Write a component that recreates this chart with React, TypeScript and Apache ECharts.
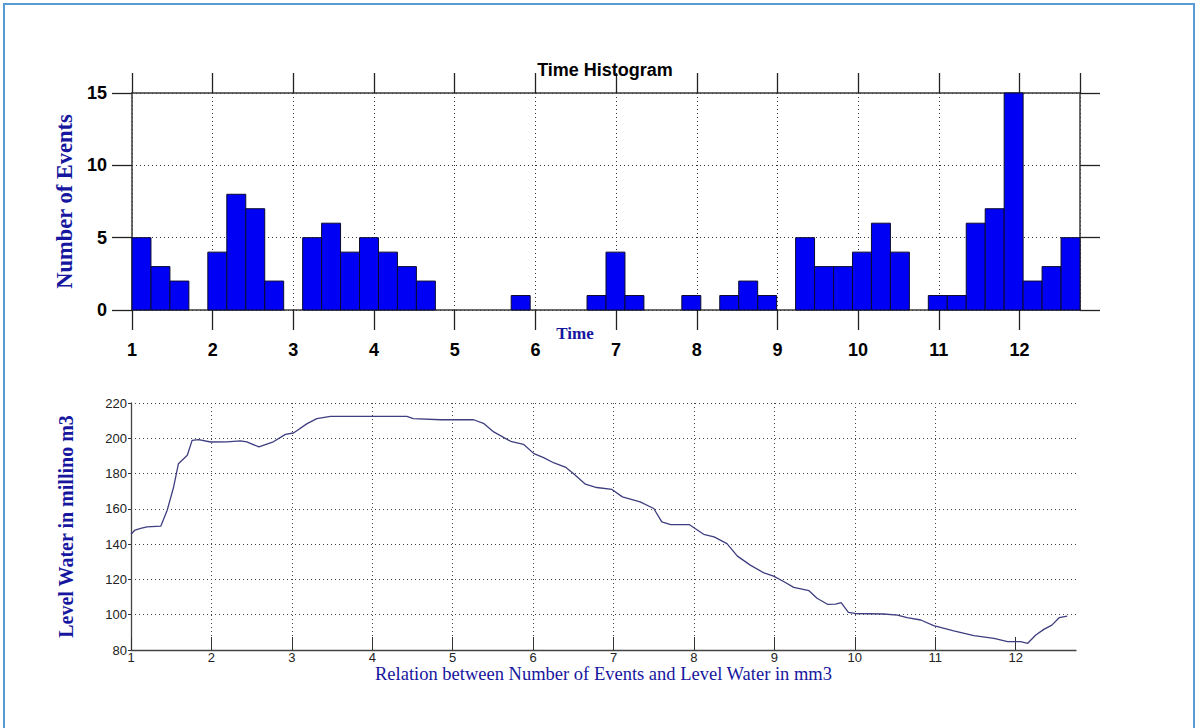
import React, { useEffect, useRef } from "react";
import * as echarts from "echarts";

// Histogram: 50 equal-width bins from 1 to 12.75 (time), counts per bin
const binStart = 1;
const binWidth = 0.235;
const eventCounts = [
  5, 3, 2, 0, 4, 8, 7, 2, 0, 5,
  6, 4, 5, 4, 3, 2, 0, 0, 0, 0,
  1, 0, 0, 0, 1, 4, 1, 0, 0, 1,
  0, 1, 2, 1, 0, 5, 3, 3, 4, 6,
  4, 0, 1, 1, 6, 7, 15, 2, 3, 5,
];

// Water level curve: [time, level in millino m3]
const waterLevel: [number, number][] = [
  [1, 145.6], [1.05, 148], [1.12, 148.9], [1.2, 149.8], [1.37, 150.2],
  [1.45, 159.2], [1.53, 172.4], [1.59, 185.6], [1.7, 190.4], [1.76, 198.8],
  [1.84, 199.2], [1.99, 197.9], [2.19, 198], [2.36, 198.5], [2.44, 198],
  [2.59, 195.1], [2.77, 198], [2.92, 202.2], [3.02, 203], [3.19, 208.3],
  [3.31, 211.1], [3.48, 212.4], [4.06, 212.4], [4.43, 212.4], [4.51, 211.1],
  [4.85, 210.5], [5.26, 210.5], [5.39, 208.3], [5.51, 203.6], [5.72, 198.3],
  [5.88, 196.6], [6.01, 191.3], [6.13, 189], [6.26, 186], [6.4, 183.7],
  [6.5, 180], [6.65, 174], [6.79, 172.1], [6.98, 171], [7.11, 166.8],
  [7.33, 164], [7.5, 160.2], [7.6, 152.6], [7.71, 151.1], [7.94, 151.1],
  [8.12, 145.6], [8.25, 144.1], [8.41, 140.3], [8.54, 133.2], [8.7, 128.1],
  [8.87, 123.7], [8.99, 121.9], [9.12, 118.7], [9.24, 115.5], [9.43, 113.6],
  [9.53, 109.3], [9.66, 105.9], [9.76, 106], [9.83, 106.8], [9.92, 101.3],
  [10.0, 100.7], [10.36, 100.4], [10.53, 99.8], [10.65, 98.3], [10.82, 97],
  [10.98, 93.8], [11.23, 90.9], [11.48, 88.1], [11.73, 86.6], [11.9, 84.7],
  [12.06, 84.7], [12.15, 83.8], [12.25, 88.5], [12.35, 91.7], [12.45, 94.1],
  [12.54, 98.3], [12.64, 99.2],
];

const timeTicks = [1, 2, 3, 4, 5, 6, 7, 8, 9, 10, 11, 12];

const TITLE = "Time Histogram";
const HIST_X_NAME = "Time";
const HIST_Y_NAME = "Number of Events";
const LEVEL_X_NAME = "Relation between Number of Events and Level Water in mm3";
const LEVEL_Y_NAME = "Level Water in millino m3";

const LABEL_BLUE = "#16169e";
const SANS = "'Liberation Sans', Arial, sans-serif";
const SERIF = "'Liberation Serif', 'Times New Roman', serif";

export default function App() {
  const ref = useRef<HTMLDivElement>(null);

  useEffect(() => {
    if (!ref.current) return;
    const chart = echarts.init(ref.current, undefined, { renderer: "svg" });

    const bins = eventCounts.map((c, i) => [
      binStart + i * binWidth,
      binStart + (i + 1) * binWidth,
      c,
    ]);

    const histTickLabel = {
      color: "#000",
      fontFamily: SANS,
      fontWeight: "bold" as const,
      fontSize: 18,
    };
    const dotted = { color: "#333", type: [1, 3] as number[], width: 1 };
    const boxLine = { show: true, onZero: false, lineStyle: { color: "#3a3a3a", width: 1.5 } };
    const outTick = { show: true, length: 20, lineStyle: { color: "#222", width: 1.3 } };

    chart.setOption({
      animation: false,
      backgroundColor: "#fff",
      grid: [
        { left: 132, top: 93, width: 948, height: 217 },
        { left: 131, top: 403, width: 945, height: 247 },
      ],
      xAxis: [
        {
          gridIndex: 0,
          type: "value",
          position: "bottom",
          min: 1,
          max: 12.75,
          interval: 1,
          axisLine: boxLine,
          axisTick: outTick,
          axisLabel: { ...histTickLabel, margin: 31, showMaxLabel: false },
          splitLine: { show: true, lineStyle: dotted },
        },
        {
          gridIndex: 0,
          type: "value",
          position: "top",
          min: 1,
          max: 12.75,
          interval: 1,
          axisLine: boxLine,
          axisTick: outTick,
          axisLabel: { show: false },
          splitLine: { show: false },
        },
        {
          gridIndex: 1,
          type: "value",
          min: 1,
          max: 12.75,
          interval: 1,
          axisLine: { show: true, onZero: false, lineStyle: { color: "#444", width: 1.3 } },
          axisTick: {
            show: true,
            inside: true,
            length: 13,
            customValues: timeTicks,
            lineStyle: { color: "#333", width: 1 },
          },
          axisLabel: {
            color: "#222",
            fontFamily: SANS,
            fontSize: 13,
            margin: 1,
            customValues: timeTicks,
          },
          splitLine: {
            show: true,
            showMaxLine: false,
            lineStyle: { color: "#444", type: [1, 3], width: 1 },
          },
          name: LEVEL_X_NAME,
          nameLocation: "middle",
          nameGap: 13,
          nameTextStyle: {
            color: LABEL_BLUE,
            fontFamily: SERIF,
            fontSize: 18.5,
          },
        },
      ],
      yAxis: [
        {
          gridIndex: 0,
          type: "value",
          position: "left",
          min: 0,
          max: 15,
          interval: 5,
          axisLine: boxLine,
          axisTick: outTick,
          axisLabel: { ...histTickLabel, margin: 25 },
          splitLine: { show: true, lineStyle: dotted },
          name: HIST_Y_NAME,
          nameLocation: "middle",
          nameGap: 54,
          nameTextStyle: {
            color: LABEL_BLUE,
            fontFamily: SERIF,
            fontWeight: "bold",
            fontSize: 22.5,
          },
        },
        {
          gridIndex: 0,
          type: "value",
          position: "right",
          min: 0,
          max: 15,
          interval: 5,
          axisLine: boxLine,
          axisTick: outTick,
          axisLabel: { show: false },
          splitLine: { show: false },
        },
        {
          gridIndex: 1,
          type: "value",
          min: 80,
          max: 220,
          interval: 20,
          axisLine: { show: true, onZero: false, lineStyle: { color: "#444", width: 1.3 } },
          axisTick: { show: true, length: 3, lineStyle: { color: "#333" } },
          axisLabel: {
            color: "#222",
            fontFamily: SANS,
            fontSize: 13,
            margin: 4,
          },
          splitLine: { show: true, lineStyle: { color: "#444", type: [1, 3], width: 1 } },
          name: LEVEL_Y_NAME,
          nameLocation: "middle",
          nameGap: 55,
          nameTextStyle: {
            color: LABEL_BLUE,
            fontFamily: SERIF,
            fontWeight: "bold",
            fontSize: 20,
          },
        },
      ],
      series: [
        {
          type: "custom",
          xAxisIndex: 0,
          yAxisIndex: 0,
          data: bins,
          encode: { x: [0, 1], y: 2 },
          renderItem: (params: any, api: any) => {
            const x0 = api.value(0);
            const x1 = api.value(1);
            const h = api.value(2);
            if (!h) return null;
            const p0 = api.coord([x0, h]);
            const p1 = api.coord([x1, 0]);
            return {
              type: "rect",
              shape: { x: p0[0], y: p0[1], width: p1[0] - p0[0], height: p1[1] - p0[1] },
              style: { fill: "#0000f5", stroke: "#0a0a30", lineWidth: 1 },
            };
          },
          z: 3,
        },
        {
          type: "line",
          xAxisIndex: 2,
          yAxisIndex: 2,
          data: waterLevel,
          showSymbol: false,
          symbol: "none",
          lineStyle: { color: "#3e3e80", width: 1.3 },
        },
      ],
      graphic: [
        {
          type: "rect",
          shape: { x: 4, y: 4, width: 1190, height: 760 },
          style: { fill: "none", stroke: "#5b9bd5", lineWidth: 2 },
          silent: true,
        },
        {
          type: "text",
          x: 605,
          y: 70,
          style: {
            text: TITLE,
            align: "center",
            verticalAlign: "middle",
            fill: "#000",
            font: `bold 18px ${SANS}`,
          },
          z: 10,
        },
        {
          type: "text",
          x: 575,
          y: 333,
          style: {
            text: HIST_X_NAME,
            align: "center",
            verticalAlign: "middle",
            fill: LABEL_BLUE,
            font: `bold 17px ${SERIF}`,
          },
        },
      ],
    });

    return () => chart.dispose();
  }, []);

  return (
    <div
      ref={ref}
      style={{ position: "absolute", left: 0, top: 0, width: 1199, height: 728 }}
    />
  );
}
